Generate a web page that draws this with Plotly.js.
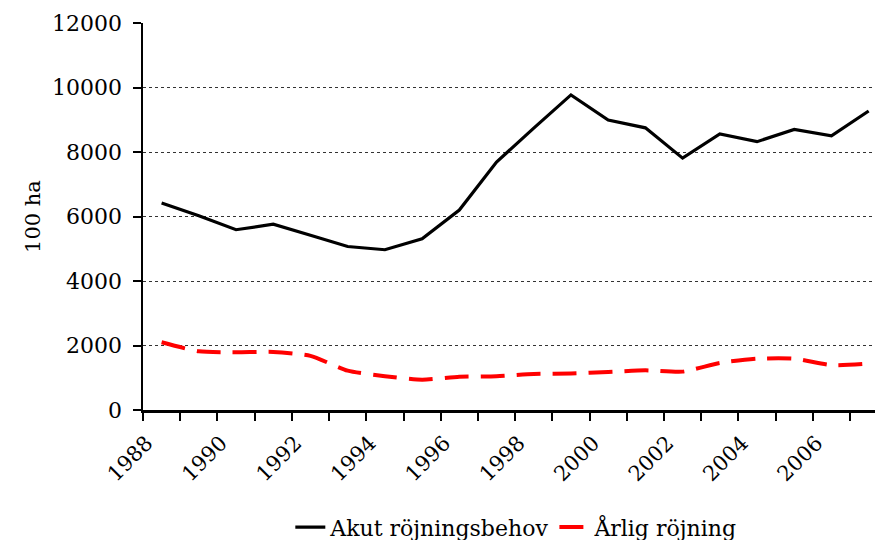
<!DOCTYPE html>
<html>
<head>
<meta charset="utf-8">
<script src="https://cdn.plot.ly/plotly-3.0.1.min.js"></script>
<style>html,body{margin:0;padding:0;background:#fff}#chart{width:875px;height:540px}</style>
</head>
<body>
<div id="chart"></div>
<script>
var years = [1988,1989,1990,1991,1992,1993,1994,1995,1996,1997,1998,1999,2000,2001,2002,2003,2004,2005,2006,2007];
var akut = [6420,6020,5590,5760,5420,5070,4970,5310,6200,7690,8740,9770,8990,8750,7810,8560,8320,8700,8500,9270];
var arlig = [2100,1820,1790,1800,1680,1220,1050,940,1030,1050,1120,1130,1180,1230,1190,1460,1590,1590,1390,1440];
var tickYears = [1988,1990,1992,1994,1996,1998,2000,2002,2004,2006];
var tickLabels = tickYears.map(String);
var seriesNames = ['Akut röjningsbehov', 'Årlig röjning'];
var yTicks = [0,2000,4000,6000,8000,10000,12000];

var FONT = 'DejaVu Serif, Georgia, serif';

var data = [
  {x: years, y: akut, name: seriesNames[0], type: 'scatter', mode: 'lines',
   line: {color: '#000000', width: 3.2}},
  {x: years, y: arlig, name: seriesNames[1], type: 'scatter', mode: 'lines',
   line: {color: '#ff0000', width: 4, dash: '24px,12px', shape: 'spline', smoothing: 0.6}}
];

var layout = {
  width: 875, height: 540,
  margin: {l: 143, r: 0, t: 23, b: 130, autoexpand: false},
  paper_bgcolor: '#ffffff', plot_bgcolor: '#ffffff',
  font: {family: FONT, size: 21, color: '#000'},
  showlegend: true,
  legend: {orientation: 'h', x: 0.51, xanchor: 'center', y: -0.303, yanchor: 'middle',
           font: {family: FONT, size: 22, color: '#000'}, tracegroupgap: 0},
  xaxis: {
    type: 'linear', range: [1987.5, 2007.17], automargin: false,
    tickmode: 'array', tickvals: tickYears, ticktext: tickLabels,
    tickangle: -45, ticks: 'outside', ticklen: 8, tickcolor: 'rgba(0,0,0,0)',
    ticklabelstandoff: 2, ticklabelshift: -15,
    showline: true, linecolor: '#000', linewidth: 2.5,
    showgrid: false, zeroline: false,
    minor: {ticks: 'outside', ticklen: 8, tickwidth: 2, tickcolor: '#000', tick0: 1987.5, dtick: 1, showgrid: false},
    tickfont: {family: FONT, size: 21, color: '#000'}
  },
  yaxis: {
    range: [0, 12000], automargin: false, tickmode: 'array', tickvals: yTicks, ticktext: yTicks.map(String),
    ticks: 'outside', ticklen: 8, tickwidth: 2, tickcolor: '#000',
    showline: true, linecolor: '#000', linewidth: 2.5,
    showgrid: true, gridcolor: '#333', gridwidth: 1, griddash: '3px,3px',
    zeroline: false,
    ticklabelstandoff: 6,
    tickfont: {family: FONT, size: 22, color: '#000'},
    title: {text: '100 ha', font: {family: FONT, size: 21, color: '#000'}, standoff: 6}
  }
};

Plotly.newPlot('chart', data, layout, {staticPlot: true, displayModeBar: false});
</script>
</body>
</html>
